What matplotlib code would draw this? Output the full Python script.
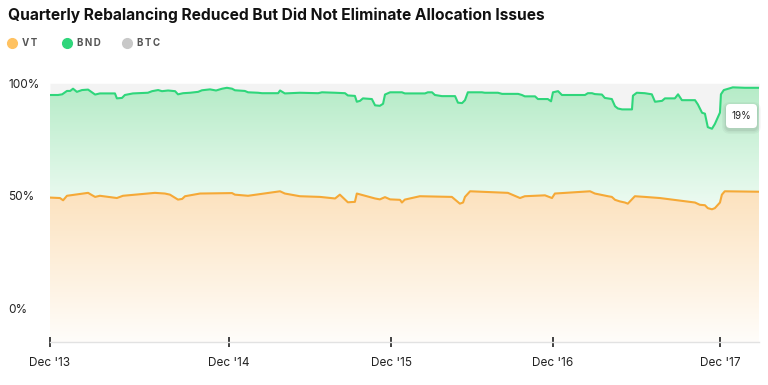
import numpy as np
import matplotlib.pyplot as plt
from matplotlib.lines import Line2D
from matplotlib.patches import FancyBboxPatch
from matplotlib.transforms import IdentityTransform

plt.rcParams['font.family'] = ['Inter', 'DejaVu Sans']

TITLE = "Quarterly Rebalancing Reduced But Did Not Eliminate Allocation Issues"
series_names = ["VT", "BND", "BTC"]

# weeks since Dec '13, allocation in % (VT, then VT + BND stacked)
vt_weeks = [0, 3.1, 4.1, 5.3, 11.9, 13.1, 14.1, 15.6, 20.9, 22.8, 32.8, 35.9, 37.5, 40, 41.3,
            42.2, 46.9, 56.9, 57.8, 61.9, 71.9, 73.4, 78.1, 84.4, 89.1, 90.6, 93.1, 95.3,
            95.9, 101.6, 103.1, 104.7, 106.3, 109.4, 110, 110.9, 115.6, 125.6, 128.1, 129.1,
            129.7, 131.3, 143.1, 146.9, 148.4, 154.7, 156.9, 157.8, 168.8, 170.3, 174.4,
            175.6, 176.6, 178.1, 179.7, 180.6, 182.8, 185.9, 190.6, 201.6, 203.1, 204.7,
            205.6, 206.9, 207.8, 209.4, 210, 210.9, 221.6]
vt_share = [49.2, 49.0, 48.0, 50.0, 51.3, 50.3, 49.5, 50.0, 49.0, 50.0, 51.3, 51.0, 50.5, 48.3,
            48.6, 49.8, 51.0, 51.2, 50.5, 50.0, 52.0, 51.0, 49.8, 49.5, 48.8, 50.5, 47.1, 47.3,
            51.0, 48.8, 48.4, 49.4, 48.4, 48.2, 47.0, 48.3, 49.8, 49.5, 46.5, 47.0, 49.5, 52.0,
            51.3, 49.0, 49.8, 50.2, 49.0, 51.0, 52.0, 51.0, 49.8, 49.5, 48.2, 47.5, 47.0, 46.5,
            49.8, 49.5, 49.0, 47.0, 46.0, 45.8, 44.5, 44.0, 44.5, 47.0, 50.5, 52.0, 51.8]

bnd_weeks = [0, 2.5, 3.8, 5.3, 6.3, 7.2, 8.4, 10, 11.9, 13.1, 14.1, 15.6, 20.3, 20.9, 22.5,
             23.4, 25.9, 30.6, 31.9, 33.8, 35, 36.9, 39.1, 40, 41.6, 43.8, 46.3, 47.5, 50,
             51.9, 53.8, 55.3, 56.9, 57.8, 60.9, 61.9, 65, 66.3, 71.3, 71.9, 73.4, 78.1, 83.8,
             85, 89.1, 92.2, 93.1, 95.3, 95.9, 96.9, 97.8, 100.6, 101.6, 103.1, 104.1, 104.7,
             106.3, 110, 110.9, 117.2, 118.1, 119.4, 120.3, 122.5, 126.6, 127.5, 128.8, 129.7,
             130.6, 135, 135.9, 140, 141.3, 146.3, 147.5, 148.4, 151.6, 152.5, 155.6, 156.6,
             157.2, 158.8, 160, 167.2, 168.1, 169.4, 170.3, 172.5, 173.4, 175.6, 176.6, 177.5,
             178.8, 181.9, 182.2, 183.4, 185.9, 188.1, 189.1, 191.3, 192.2, 195.3, 196.3,
             197.5, 201.6, 202.5, 203.8, 204.7, 205.6, 206.9, 207.8, 209.4, 209.7, 210.6,
             212.5, 213.4, 217.2, 221.6]
vt_bnd_share = [94.8, 94.8, 95.1, 96.6, 96.6, 97.6, 96.2, 97.0, 97.2, 96.0, 95.0, 95.5, 95.5,
                93.3, 93.5, 94.8, 95.5, 95.8, 96.5, 97.0, 96.5, 96.8, 96.5, 95.1, 95.6, 95.8,
                96.2, 96.9, 97.3, 96.8, 97.6, 98.0, 97.6, 96.9, 96.6, 96.0, 95.8, 95.6, 95.6,
                96.8, 95.5, 95.8, 95.6, 96.0, 95.8, 95.6, 94.6, 94.4, 91.8, 92.2, 93.3, 93.0,
                90.2, 90.0, 90.9, 95.0, 96.0, 96.0, 95.5, 95.5, 96.0, 96.0, 94.8, 94.3, 94.3,
                91.4, 91.2, 92.5, 96.0, 96.0, 95.8, 95.8, 95.3, 95.3, 94.8, 94.2, 94.2, 93.0,
                93.0, 92.0, 96.0, 96.5, 94.8, 94.8, 95.6, 95.6, 95.2, 95.0, 93.5, 93.0, 89.8,
                88.8, 88.4, 88.4, 94.5, 95.8, 95.6, 95.1, 91.8, 92.2, 93.3, 93.3, 95.1, 92.5,
                92.5, 90.6, 86.9, 86.5, 80.5, 79.8, 81.9, 87.0, 95.1, 97.0, 97.8, 98.2, 98.0,
                98.0]

tick_weeks = [0, 55.9, 106.6, 157.2, 209.4]
tick_labels = ["Dec '13", "Dec '14", "Dec '15", "Dec '16", "Dec '17"]
y_ticks = [0, 50, 100]
btc_callout = "19%"

legend_colors = ['#ffc261', '#2fd67b', '#c8c8c8']


def gradient_fill(ax, x, lower, upper, top_rgb, bottom_rgb, y0, y1, zorder):
    poly = ax.fill_between(x, lower, upper, facecolor='none', edgecolor='none')
    t = np.linspace(0, 1, 256).reshape(-1, 1)
    top = np.array(top_rgb) / 255.0
    bot = np.array(bottom_rgb) / 255.0
    img = top * (1 - t)[..., None] + bot * t[..., None]
    img = img.reshape(256, 1, 3)
    im = ax.imshow(img, extent=[x[0], x[-1], y0, y1], aspect='auto', origin='upper',
                   zorder=zorder, interpolation='bilinear')
    im.set_clip_path(poly.get_paths()[0], transform=ax.transData)


fig = plt.figure(figsize=(7.68, 3.85), dpi=100)
ax = fig.add_axes([50 / 768, 1 - 342 / 385, 709 / 768, (342 - 83.3) / 385])

grid = np.union1d(vt_weeks, bnd_weeks)
vt_g = np.interp(grid, vt_weeks, vt_share)
top_g = np.interp(grid, bnd_weeks, vt_bnd_share)

ax.fill_between(grid, top_g, 100, color='#f3f3f3', lw=0, zorder=1)
gradient_fill(ax, grid, vt_g, top_g, (180, 235, 198), (242, 252, 246), 40, 100, 1)
gradient_fill(ax, grid, -15, vt_g, (252, 225, 188), (255, 253, 250), -15, 54, 1)

ax.plot(bnd_weeks, vt_bnd_share, color='#2fd67b', lw=1.5, zorder=3)
ax.plot(vt_weeks, vt_share, color='#f5a937', lw=1.5, zorder=3)

ax.set_xlim(0, 221.6)
ax.set_ylim(-15, 100)

for s in ['top', 'right', 'left']:
    ax.spines[s].set_visible(False)
ax.spines['bottom'].set_color('#e2e2e2')
ax.spines['bottom'].set_linewidth(1)

ax.set_xticks(tick_weeks)
ax.set_xticklabels(tick_labels, fontsize=8.5, color='#222222')
ax.tick_params(axis='x', direction='inout', length=7.5, width=1.3, color='#333333', pad=7)

ax.set_yticks(y_ticks)
ax.set_yticklabels([f"{v}%" for v in y_ticks], fontsize=8.5, color='#222222')
ax.tick_params(axis='y', length=0, pad=30)
for lab in ax.get_yticklabels():
    lab.set_horizontalalignment('left')
    lab.set_verticalalignment('center_baseline')

# tooltip showing BTC share at the dip: soft shadow boxes, then white card with text
for grow, alpha in [(4, 0.03), (2.5, 0.04), (1, 0.05)]:
    fig.add_artist(FancyBboxPatch((726 - grow, 385 - 130 - grow), 31 + 2 * grow, 24 + 2 * grow,
                                  boxstyle=f'round,pad=0,rounding_size={4 + grow}',
                                  fc='black', ec='none', alpha=alpha,
                                  transform=IdentityTransform(), zorder=5))
fig.add_artist(FancyBboxPatch((726, 385 - 128), 31, 24, boxstyle='round,pad=0,rounding_size=4',
                              fc='white', ec='none', transform=IdentityTransform(), zorder=6))
fig.text(741.5 / 768, 1 - 116 / 385, btc_callout, fontsize=7, color='#222222',
         ha='center', va='center', zorder=7)

fig.text(8 / 768, 1 - 15 / 385, TITLE, fontsize=11.2, fontweight='bold', color='#111111',
         ha='left', va='center')

legend_x = [12, 67, 127]
for name, col, lx in zip(series_names, legend_colors, legend_x):
    fig.add_artist(Line2D([lx / 768], [1 - 43 / 385], marker='o', markersize=7, color=col,
                          lw=0, transform=fig.transFigure))
    fig.text((lx + 10) / 768, 1 - 43 / 385, "\u2009".join(name), fontsize=7, fontweight='bold',
             color='#555555', ha='left', va='center')

fig.savefig('out.png', dpi=100)
